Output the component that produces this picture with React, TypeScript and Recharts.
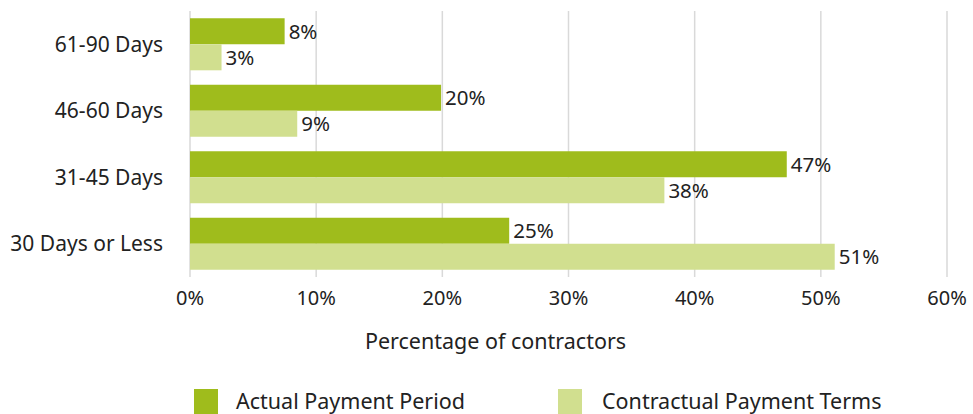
import React from "react";
import {
    Bar,
    BarChart,
    CartesianGrid,
    LabelList,
    XAxis,
    YAxis,
} from "recharts";

const categories = ["61-90 Days", "46-60 Days", "31-45 Days", "30 Days or Less"];
const actualPayment = [7.5, 19.9, 47.3, 25.3];
const contractualTerms = [2.5, 8.5, 37.6, 51.1];
const xTicks = [0, 10, 20, 30, 40, 50, 60];

const data = categories.map((name, i) => ({
    name,
    actual: actualPayment[i],
    contractual: contractualTerms[i],
}));

const DARK = "#9fbc1c";
const LIGHT = "#d1df8f";
const FONT = "'Noto Sans', sans-serif";

function ChartLegend() {
    const item = (color: string, text: string, left: number, textLeft: number) => (
        <>
            <div style={{ position: "absolute", left, top: 389, width: 24, height: 30, background: color }} />
            <div
                style={{
                    position: "absolute",
                    left: textLeft,
                    top: 390,
                    fontSize: 21.5,
                    lineHeight: 1,
                    color: "#222",
                    whiteSpace: "nowrap",
                }}>
                {text}
            </div>
        </>
    );
    return (
        <div style={{ position: "absolute", left: 0, top: 0, width: 973, height: 414, fontFamily: FONT }}>
            {item(DARK, "Actual Payment Period", 194, 236)}
            {item(LIGHT, "Contractual Payment Terms", 558, 602)}
        </div>
    );
}

function App() {
    return (
        <div style={{ width: 973, height: 414, overflow: "hidden", position: "relative", fontFamily: FONT }}>
            <style>{"body{margin:0}"}</style>
            <BarChart
                width={973}
                height={430}
                data={data}
                layout="vertical"
                margin={{ top: 11, right: 26, bottom: 0, left: 0 }}
                barCategoryGap="11%"
                barGap={0}>
                <CartesianGrid horizontal={false} stroke="#d9d9d9" strokeWidth={1.5} />
                <XAxis
                    type="number"
                    domain={[0, 60]}
                    ticks={xTicks}
                    tickFormatter={(v: number) => `${v}%`}
                    axisLine={false}
                    tickLine={false}
                    tickSize={0}
                    tickMargin={14}
                    height={153}
                    tick={{ fill: "#222", fontSize: 20, fontFamily: FONT }}
                    label={{
                        value: "Percentage of contractors",
                        position: "insideTop",
                        offset: 57,
                        dx: -73,
                        fill: "#222",
                        fontSize: 21.5,
                        fontFamily: FONT,
                    }}
                />
                <YAxis
                    type="category"
                    dataKey="name"
                    width={190}
                    axisLine={false}
                    tickLine={false}
                    tickSize={0}
                    tickMargin={27}
                    tick={{ fill: "#222", fontSize: 21, fontFamily: FONT }}
                />
                <Bar dataKey="actual" name="Actual Payment Period" fill={DARK} isAnimationActive={false}>
                    <LabelList
                        dataKey="actual"
                        position="right"
                        offset={4}
                        formatter={(v: number) => `${Math.round(v)}%`}
                        fill="#222"
                        fontSize={20.5}
                        fontFamily={FONT}
                    />
                </Bar>
                <Bar dataKey="contractual" name="Contractual Payment Terms" fill={LIGHT} isAnimationActive={false}>
                    <LabelList
                        dataKey="contractual"
                        position="right"
                        offset={4}
                        formatter={(v: number) => `${Math.round(v)}%`}
                        fill="#222"
                        fontSize={20.5}
                        fontFamily={FONT}
                    />
                </Bar>
            </BarChart>
            <ChartLegend />
        </div>
    );
}

export default App;
